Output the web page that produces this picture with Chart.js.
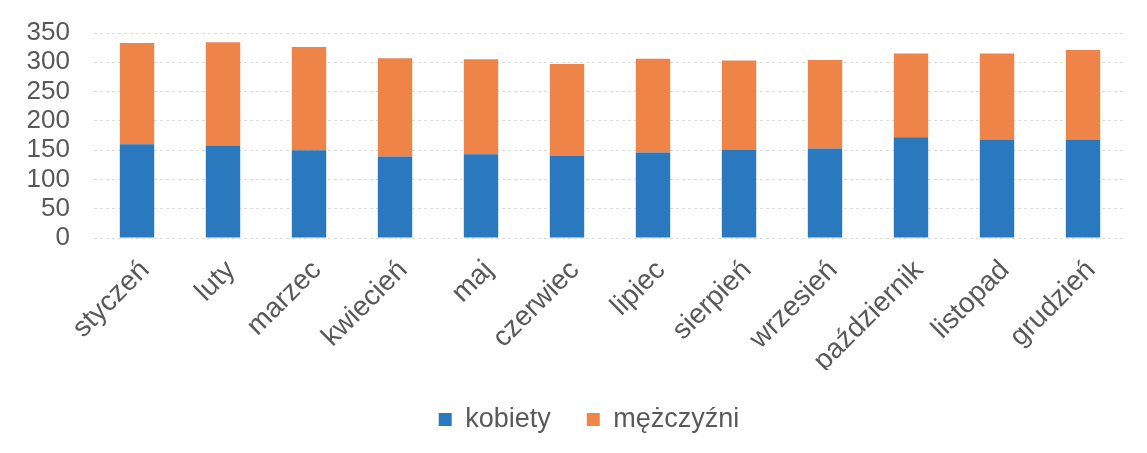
<!DOCTYPE html>
<html>
<head>
<meta charset="utf-8">
<script src="https://cdn.jsdelivr.net/npm/chart.js@4"></script>
<style>
html,body{margin:0;padding:0;background:#fff;}
canvas{display:block;}
</style>
</head>
<body>
<canvas id="c" width="1147" height="453"></canvas>
<script>
const months = ["styczeń","luty","marzec","kwiecień","maj","czerwiec","lipiec","sierpień","wrzesień","październik","listopad","grudzień"];
const kobiety = [160, 158, 150, 139, 143, 140, 146, 151, 153, 172, 168, 168];
const mezczyzni = [173, 176, 176, 168, 162, 157, 160, 152, 151, 143, 147, 153];
const seriesNames = ["kobiety", "mężczyźni"];
const yTicks = [0, 50, 100, 150, 200, 250, 300, 350];

const FONT = "'Liberation Sans', Arial, sans-serif";
const TXT = "#595959";

const legendShift = {
  id: 'legendShift',
  afterLayout(chart) {
    if (chart.legend) { chart.legend.left += 26; chart.legend.right += 26; }
  }
};

new Chart(document.getElementById('c'), {
  type: 'bar',
  data: {
    labels: months,
    datasets: [
      { label: seriesNames[0], data: kobiety, backgroundColor: '#2a79bf', categoryPercentage: 1, barPercentage: 0.4 },
      { label: seriesNames[1], data: mezczyzni, backgroundColor: '#ee8447', categoryPercentage: 1, barPercentage: 0.4 }
    ]
  },
  plugins: [legendShift],
  options: {
    responsive: false,
    animation: false,
    layout: { padding: { left: 0, right: 21, top: 33, bottom: 10 } },
    plugins: {
      tooltip: { enabled: false },
      legend: {
        position: 'bottom',
        labels: {
          boxWidth: 13, boxHeight: 13, padding: 36,
          color: TXT,
          font: { family: FONT, size: 27 }
        }
      }
    },
    scales: {
      x: {
        stacked: true,
        grid: { display: false, drawTicks: false },
        border: { display: false },
        ticks: {
          color: TXT, font: { family: FONT, size: 28 },
          maxRotation: 45, minRotation: 45, padding: 16, labelOffset: 8, autoSkip: false
        },
        afterFit: (s) => { s.height = 132; }
      },
      y: {
        stacked: true,
        min: yTicks[0], max: yTicks[yTicks.length - 1],
        grid: { color: '#dcdcdc', drawTicks: false, lineWidth: 1 },
        border: { display: false, dash: [3, 3] },
        ticks: { stepSize: yTicks[1] - yTicks[0], autoSkip: false, color: TXT, font: { family: FONT, size: 26 }, padding: 24 },
        afterFit: (s) => { s.width = 94; s.paddingTop = 0; s.paddingBottom = 0; }
      }
    }
  }
});
</script>
</body>
</html>
